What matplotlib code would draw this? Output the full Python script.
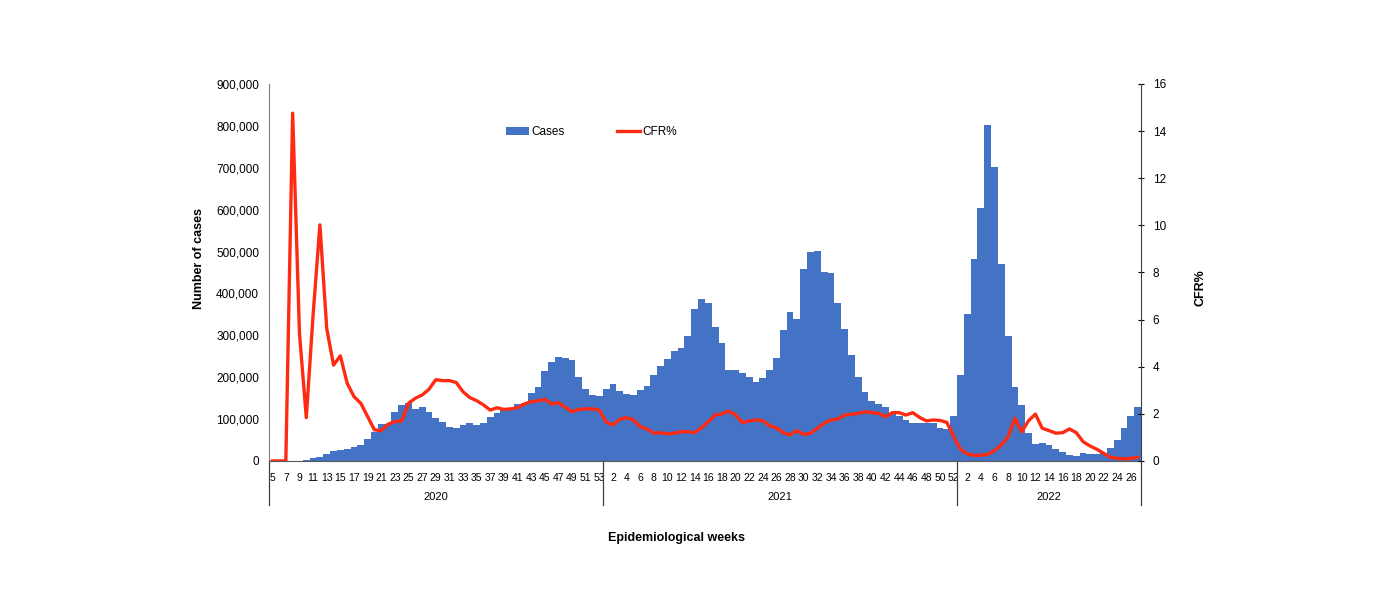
import matplotlib
matplotlib.use("Agg")
import matplotlib.pyplot as plt
import numpy as np

plt.rcParams['font.family'] = ['Liberation Sans', 'DejaVu Sans']

# Weekly cases, grouped by year
years = ["2020", "2021", "2022"]
weeks_2020 = list(range(5, 54))
weeks_2021 = list(range(1, 53))
weeks_2022 = list(range(1, 28))

cases_2020 = [0, 0, 0, 0, 0, 2000, 7000, 10000, 17000, 25000, 26000, 28000, 34000, 38000,
              52000, 68000, 88000, 88000, 118000, 133000, 139000, 125000, 128000, 117000,
              102000, 94000, 82000, 78000, 87000, 90000, 86000, 91000, 104000, 114000,
              122000, 126000, 136000, 139000, 163000, 177000, 215000, 237000, 249000,
              247000, 241000, 201000, 173000, 158000, 155000]
cases_2021 = [171000, 183000, 167000, 159000, 157000, 169000, 180000, 205000, 227000, 243000,
              263000, 270000, 298000, 363000, 386000, 376000, 321000, 281000, 217000, 217000,
              211000, 200000, 189000, 197000, 217000, 245000, 313000, 356000, 338000, 458000,
              500000, 501000, 452000, 448000, 376000, 314000, 253000, 201000, 164000, 142000,
              135000, 130000, 114000, 107000, 98000, 91000, 91000, 91000, 90000, 78000,
              76000, 107000]
cases_2022 = [205000, 352000, 483000, 603000, 802000, 702000, 470000, 299000, 177000, 134000,
              66000, 40000, 42000, 38000, 28000, 21000, 14000, 12000, 18000, 17000,
              17000, 18000, 32000, 50000, 78000, 107000, 130000]

cfr_2020 = [0, 0, 0, 14.76, 5.42, 1.84, 6.2, 10.02, 5.63, 4.07, 4.46, 3.3, 2.73, 2.45,
            1.88, 1.32, 1.29, 1.56, 1.67, 1.70, 2.45, 2.66, 2.80, 3.04, 3.45, 3.41, 3.41,
            3.33, 2.94, 2.69, 2.56, 2.38, 2.16, 2.26, 2.19, 2.21, 2.26, 2.42, 2.52, 2.55,
            2.62, 2.42, 2.47, 2.28, 2.09, 2.19, 2.21, 2.21, 2.16]
cfr_2021 = [1.65, 1.53, 1.77, 1.84, 1.74, 1.46, 1.36, 1.18, 1.2, 1.15, 1.18, 1.24, 1.24,
            1.2, 1.41, 1.67, 1.95, 2.0, 2.12, 1.95, 1.63, 1.70, 1.74, 1.71, 1.5, 1.40,
            1.2, 1.1, 1.29, 1.13, 1.17, 1.39, 1.6, 1.74, 1.78, 1.95, 1.98, 2.02, 2.09,
            2.05, 2.02, 1.88, 2.05, 2.05, 1.95, 2.05, 1.85, 1.70, 1.74, 1.72, 1.64, 1.05]
cfr_2022 = [0.5, 0.3, 0.24, 0.24, 0.28, 0.44, 0.68, 1.03, 1.81, 1.24, 1.71, 1.99, 1.39,
            1.29, 1.18, 1.2, 1.36, 1.2, 0.82, 0.64, 0.5, 0.33, 0.16, 0.11, 0.09, 0.11, 0.15]

week_groups = [weeks_2020, weeks_2021, weeks_2022]
cases = cases_2020 + cases_2021 + cases_2022
cfr = cfr_2020 + cfr_2021 + cfr_2022
week_labels = [str(w) for g in week_groups for w in g]
x = np.arange(len(cases))

fig = plt.figure(figsize=(14, 6.04), dpi=100)
ax = fig.add_axes([0.192, 0.2368, 0.623, 0.6242])

bars = ax.bar(x, cases, width=1.0, color='#4472C4', label='Cases', zorder=2)
ax.set_xlim(-0.5, len(cases) - 0.5)
ax.set_ylim(0, 900000)
ax.set_yticks(np.arange(0, 900001, 100000))
ax.set_yticklabels([f"{v:,}" for v in range(0, 900001, 100000)], fontsize=8.5)
ax.tick_params(axis='y', length=0, pad=7)

ax.set_xticks(x[::2])
ax.set_xticklabels(week_labels[::2], fontsize=7.5)
ax.tick_params(axis='x', length=0, pad=9)

for s in ['top', 'right']:
    ax.spines[s].set_visible(False)
ax.spines['left'].set_color('#7f7f7f')
ax.spines['bottom'].set_color('#595959')

# year separators and labels below the axis
start = 0
edges = [-0.5]
for yr, g in zip(years, week_groups):
    end = start + len(g)
    edges.append(end - 0.5)
    ax.text((start + end - 1) / 2, -0.095, yr, transform=ax.get_xaxis_transform(),
            ha='center', va='center', fontsize=8)
    start = end
for e in edges:
    ax.plot([e, e], [0, -0.118], transform=ax.get_xaxis_transform(), color='#404040',
            lw=0.9, clip_on=False)

ax.set_xlabel("Epidemiological weeks", fontsize=9, fontweight='bold')
ax.xaxis.set_label_coords(0.467, -0.189)
ax.set_ylabel("Number of cases", fontsize=9, fontweight='bold')
ax.yaxis.set_label_coords(-0.073, 0.538)

ax2 = ax.twinx()
line, = ax2.plot(x, cfr, color='#FF2A12', lw=2.4, label='CFR%', solid_joinstyle='round')
ax2.set_ylim(0, 16)
ax2.set_yticks(np.arange(0, 17, 2))
ax2.tick_params(axis='y', labelsize=8.5, direction='inout', length=5, pad=6)
for s in ['top', 'left', 'bottom']:
    ax2.spines[s].set_visible(False)
ax2.spines['right'].set_color('#404040')
ax2.set_ylabel("CFR%", fontsize=9, fontweight='bold')
ax2.yaxis.set_label_coords(1.0615, 0.459)

ax.legend([bars, line], ['Cases', 'CFR%'], ncol=2, frameon=False, fontsize=8.5,
          loc='center', bbox_to_anchor=(0.37, 0.873), columnspacing=4.5,
          handlelength=1.9, handletextpad=0.2)

fig.savefig("out.png", dpi=100)
